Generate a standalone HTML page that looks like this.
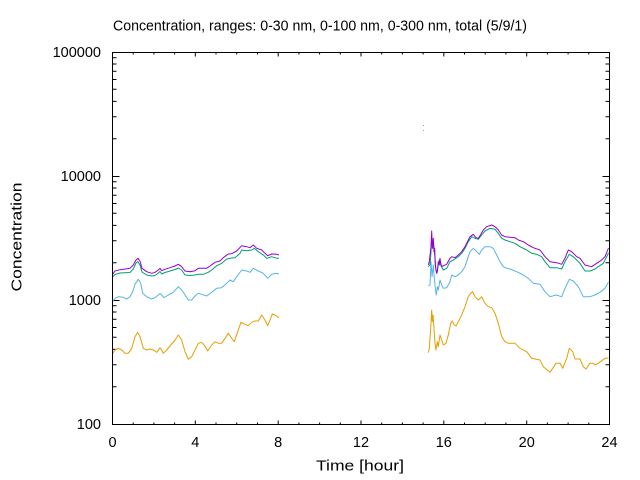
<!DOCTYPE html>
<html>
<head>
<meta charset="utf-8">
<style>
html,body{margin:0;padding:0;background:#fff;}
svg{display:block;}
text{font-family:"Liberation Sans","DejaVu Sans",sans-serif;fill:#000;}
</style>
</head>
<body>
<svg width="640" height="480" viewBox="0 0 640 480" xmlns="http://www.w3.org/2000/svg">
<rect x="0" y="0" width="640" height="480" fill="#fff"/>

<!-- title -->
<text x="113" y="30.5" font-size="14.5" textLength="414" lengthAdjust="spacingAndGlyphs">Concentration, ranges: 0-30 nm, 0-100 nm, 0-300 nm, total (5/9/1)</text>

<!-- y label -->
<text transform="translate(21.5,237) rotate(-90)" text-anchor="middle" font-size="14.5" textLength="109" lengthAdjust="spacingAndGlyphs">Concentration</text>

<!-- x label -->
<text x="360" y="470.5" text-anchor="middle" font-size="14.5" textLength="88" lengthAdjust="spacingAndGlyphs">Time [hour]</text>

<!-- y tick labels -->
<g font-size="14.5" text-anchor="end">
<text x="101" y="57.2">100000</text>
<text x="101" y="181.2">10000</text>
<text x="101" y="305.2">1000</text>
<text x="101" y="429.2">100</text>
</g>

<!-- x tick labels -->
<g font-size="14.5" text-anchor="middle">
<text x="112.5" y="447">0</text>
<text x="195.3" y="447">4</text>
<text x="278.2" y="447">8</text>
<text x="361" y="447">12</text>
<text x="443.8" y="447">16</text>
<text x="526.7" y="447">20</text>
<text x="609.5" y="447">24</text>
</g>

<!-- ticks -->
<g stroke="#000" stroke-width="1" fill="none">
<path d="
M112.5,52.5h7 M609.5,52.5h-7
M112.5,176.5h7 M609.5,176.5h-7
M112.5,300.5h7 M609.5,300.5h-7
M112.5,424.5h7 M609.5,424.5h-7
M112.5,386.7h4 M609.5,386.7h-4
M112.5,364.8h4 M609.5,364.8h-4
M112.5,349.4h4 M609.5,349.4h-4
M112.5,337.3h4 M609.5,337.3h-4
M112.5,327.5h4 M609.5,327.5h-4
M112.5,319.2h4 M609.5,319.2h-4
M112.5,312h4 M609.5,312h-4
M112.5,305.7h4 M609.5,305.7h-4
M112.5,262.7h4 M609.5,262.7h-4
M112.5,240.8h4 M609.5,240.8h-4
M112.5,225.4h4 M609.5,225.4h-4
M112.5,213.3h4 M609.5,213.3h-4
M112.5,203.5h4 M609.5,203.5h-4
M112.5,195.2h4 M609.5,195.2h-4
M112.5,188h4 M609.5,188h-4
M112.5,181.7h4 M609.5,181.7h-4
M112.5,138.7h4 M609.5,138.7h-4
M112.5,116.8h4 M609.5,116.8h-4
M112.5,101.4h4 M609.5,101.4h-4
M112.5,89.3h4 M609.5,89.3h-4
M112.5,79.5h4 M609.5,79.5h-4
M112.5,71.2h4 M609.5,71.2h-4
M112.5,64h4 M609.5,64h-4
M112.5,57.7h4 M609.5,57.7h-4
"/>
<path d="
M133.2,424.5v-2 M133.2,52.5v2
M153.9,424.5v-2 M153.9,52.5v2
M174.6,424.5v-2 M174.6,52.5v2
M195.3,424.5v-4 M195.3,52.5v4
M216,424.5v-2 M216,52.5v2
M236.7,424.5v-2 M236.7,52.5v2
M257.5,424.5v-2 M257.5,52.5v2
M278.2,424.5v-4 M278.2,52.5v4
M298.9,424.5v-2 M298.9,52.5v2
M319.6,424.5v-2 M319.6,52.5v2
M340.3,424.5v-2 M340.3,52.5v2
M361,424.5v-4 M361,52.5v4
M381.7,424.5v-2 M381.7,52.5v2
M402.4,424.5v-2 M402.4,52.5v2
M423.1,424.5v-2 M423.1,52.5v2
M443.8,424.5v-4 M443.8,52.5v4
M464.5,424.5v-2 M464.5,52.5v2
M485.2,424.5v-2 M485.2,52.5v2
M505.9,424.5v-2 M505.9,52.5v2
M526.7,424.5v-4 M526.7,52.5v4
M547.4,424.5v-2 M547.4,52.5v2
M568.1,424.5v-2 M568.1,52.5v2
M588.8,424.5v-2 M588.8,52.5v2
"/>
</g>

<!-- series -->
<g fill="none" stroke-width="1" stroke-linejoin="round">
<!-- orange 0-30 -->
<polyline stroke="#e69f00" points="112.7,353.3 115,350 118.3,348.3 121.7,350 125,353.3 128.3,353.3 131.7,348.3 135,336.7 137.7,332.3 140,336.7 143.3,348.3 146.7,350 150,349 153.3,350 156.7,352.3 160,347.7 161.7,350 163.3,353.3 166.7,350 170,346 175,340 178.3,335 181.7,340 185,351.7 188.3,359.3 191.7,356.7 195,350 198.3,343.3 201.7,342.3 205,346 207.7,351 211.7,345 215,341.7 218.3,343.3 221.7,343.3 225,338.3 228.3,333.3 231.7,338.3 234.3,341.7 237.7,331.7 241,322.3 245,324.3 248.3,325.7 251.7,322.3 255,321 258.3,321 261.7,315 265,320 267.7,325.7 270,320 272.3,314 275,315 279,317.7"/>
<polyline stroke="#e69f00" points="428.3,352.7 429.3,348.3 430.7,328.3 431.7,310 432.3,321.7 433,315 434,328.3 435,343.3 436,350 437.3,341.7 438.3,346.7 440,335 441.7,340 443.3,345 446,343.3 448.3,335 450.7,323.3 452.3,321 454.3,325 456,326 458.3,321.7 461.7,315 465,306.7 468.3,296.7 470.7,293.3 472.7,291.7 475,296.7 478.3,300 481.7,296.7 485,303.3 488.3,306.7 491.7,307.7 495,313.3 498.3,323.3 501.7,336.7 505,341.7 508.3,343.3 515,343.3 520,348.3 526.7,351.7 531.7,358.3 540,360 543.3,366.7 550,372.3 556,363.3 560,363.3 562.7,368.3 566.7,358.3 569.3,348.3 572.7,351.7 575,359 580,359 583.3,366.7 586,369 590,363.3 593.3,363.3 595,365 598.3,363.3 601.7,360.7 605,358.3 608.5,358"/>
<!-- blue 0-100 -->
<polyline stroke="#56b4e9" points="112.7,301.7 115,298.3 118.3,296.7 123.3,297.3 126.7,299 130,296.7 132.7,291.7 135,284.3 138.3,279.3 140.7,283.3 142.7,293.3 146.7,296.7 151.7,299 155,297.7 158.3,295 160,293.3 161.7,295 164,297.7 168.3,295 173.3,292.3 178.3,286.7 181.7,290 185,295 188.3,300 191.7,300 195,296 198.3,293.3 201.7,294.3 206.7,296 211.7,292.3 216.7,288.3 221.7,287.7 226.7,283.3 230,280 233.3,281.7 236.7,276.7 241.7,270 246.7,271 250,272.3 253.3,268.3 258.3,271 263.3,273.3 267.7,278.3 271.7,274.3 276.7,273.3 279,274"/>
<polyline stroke="#56b4e9" points="428.3,286 430,285 431,261.7 432,276.7 433.3,265 434.3,278.3 435.3,288.3 436.3,295 437.3,286.7 438.3,290 440,280 441.7,285 443.3,288.3 446.7,287.7 450,281.7 451.7,275 455,276.7 458.3,275 461.7,271.7 465,266.7 468.3,256.7 470,251.7 473.3,248.3 476.7,251.7 479.3,254.3 481.7,250 485,246.7 490,246.7 493.3,248.3 496.7,255 500,261.7 503.3,266.7 506.7,268.3 510,269 516.7,271.7 523.3,275 528.3,278.3 533.3,283.3 540,284.3 545,291.7 550,296.7 556,295 561.7,296.7 565,288.3 569.3,279.3 573.3,281 578.3,286.7 583.3,296.7 590,296.7 595,295 600,292.3 605,288.3 608.5,282"/>
<!-- green 0-300 -->
<polyline stroke="#009e73" points="112.7,277 115,274.5 120,273 130,272.5 133.3,269 136,263 138,261.7 140,265 142,272 146.7,275 151.7,276 155,275.5 158.3,273 160,271.5 161.7,274 165,272.5 170,271 175,269.5 178.3,268 181.7,270 185,275 190,275.5 195,275 198.3,274.3 203.3,274.3 208.3,272.3 211.7,270 216.7,265.7 221.7,263.3 226.7,259 230,258.3 235,257.7 240,253.3 241.7,250 246.7,250.7 251.7,250 254.3,248.3 258.3,251.7 263.3,255 266.7,258.3 271.7,256.7 276.7,258.3 279,258.3"/>
<polyline stroke="#009e73" points="428.3,266.7 430,265 431,251.7 431.7,236.7 432.7,248.3 433.3,241.7 434.7,255 435.7,268.3 436.7,273.3 438.3,265 439.3,260 440.7,265 443.3,270 446.7,268.3 450,261.7 453.3,260 458.3,256.7 461.7,253.3 465,248.3 468.3,241.7 471.7,236.7 475,238.3 478.3,239.3 481.7,235 485,231 490,228.3 495,229.3 498.3,233.3 501.7,238.3 505,240 510,241.7 515,243.3 520,246.7 526.7,250 531.7,253.3 536.7,254.3 541.7,256.7 545,261.7 550,267.7 556.7,267.7 561.7,269 565,261.7 569.3,254.3 573.3,256.7 576.7,260 580,263.3 585,271 590,271 595,269 598.3,266.7 603.3,263.3 608.5,253"/>
<!-- purple total -->
<polyline stroke="#9400d3" points="112.7,274.3 115,271 120,269.7 130,268.3 133.3,265 136,260 138,258.3 140,261 142,268.3 146.7,271.7 151.7,273.3 155,272.3 158.3,270 160,268.3 161.7,270.7 165,269.3 170,267.7 175,266 178.3,264.3 181.7,266.7 185,271 190,271.7 195,270.7 198.3,268.3 206.7,268.3 210,266 215,262.3 220,261 223.3,257.7 228.3,254 231.7,253.7 236.7,251 241.7,245.7 246.7,246.7 250,247.7 253.3,245 256.7,248.3 261.7,250 265,253.3 267.7,255.7 271.7,254 276.7,254.3 279,255"/>
<polyline stroke="#9400d3" points="428.3,265 429.3,261.7 431,246.7 431.7,231 432.3,248.3 433.3,238.3 434,251.7 434.7,248.3 435.3,265 436,270 436.7,273.3 437.3,271.7 438.3,261.7 439.3,265 440,258.3 440.7,263.3 441.7,266.7 443.3,265.7 446.7,264.3 450,258.3 451.7,256.7 455,257.7 458.3,255 461.7,251.7 465,246.7 468.3,240 470,236.7 473.3,234.3 476,237.7 478.3,238.3 480,235.7 483.3,230 486.7,226.7 491.7,225 495,226.7 498.3,230 501.7,235 505,236.7 510,237.3 515,237.7 518.3,240 523.3,241.7 528.3,245 533.3,247.7 540,250 545,256.7 550,261.7 556.7,262.7 561.7,264.3 565,258.3 568.3,250 571.7,251.7 576.7,256.7 580,258.3 585,265 591.7,266.7 596.7,263.3 601.7,260 605,256.7 608.5,248"/>
</g>

<!-- isolated dots -->
<rect x="423" y="125" width="1" height="1" fill="#56b4e9"/>
<rect x="423" y="130" width="1" height="1" fill="#e69f00"/>

<!-- frame -->
<rect x="112.5" y="52.5" width="497" height="372" fill="none" stroke="#000" stroke-width="1"/>
</svg>
</body>
</html>
